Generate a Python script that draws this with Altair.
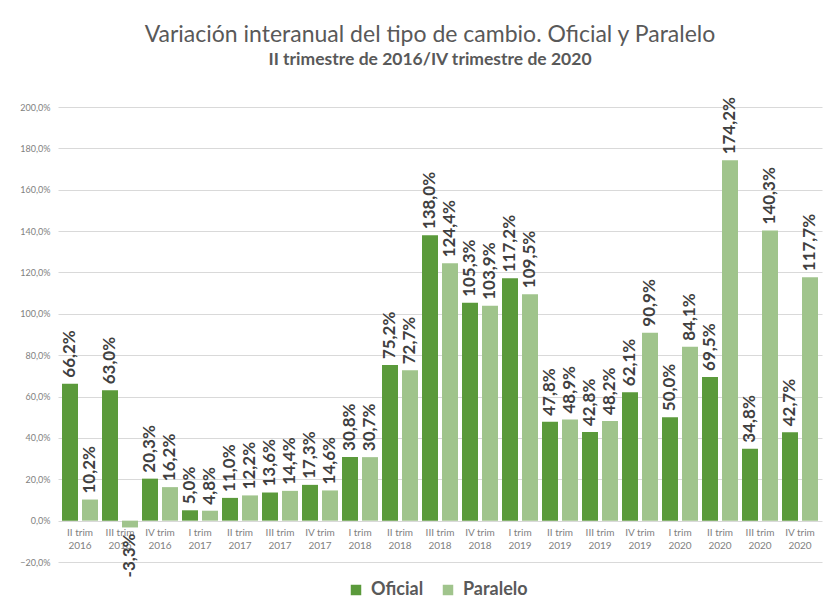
import altair as alt
import pandas as pd

categories = ["II trim|2016", "III trim|2016", "IV trim|2016", "I trim|2017", "II trim|2017",
              "III trim|2017", "IV trim|2017", "I trim|2018", "II trim|2018", "III trim|2018",
              "IV trim|2018", "I trim|2019", "II trim|2019", "III trim|2019", "IV trim|2019",
              "I trim|2020", "II trim|2020", "III trim|2020", "IV trim|2020"]
oficial = [66.2, 63.0, 20.3, 5.0, 11.0, 13.6, 17.3, 30.8, 75.2, 138.0,
           105.3, 117.2, 47.8, 42.8, 62.1, 50.0, 69.5, 34.8, 42.7]
paralelo = [10.2, -3.3, 16.2, 4.8, 12.2, 14.4, 14.6, 30.7, 72.7, 124.4,
            103.9, 109.5, 48.9, 48.2, 90.9, 84.1, 174.2, 140.3, 117.7]
series = ["Oficial", "Paralelo"]
colors = ["#5B9A3B", "#A0C48C"]
y_ticks = list(range(-20, 201, 20))

rows = []
for c, o, p in zip(categories, oficial, paralelo):
    rows.append({"cat": c, "serie": "Oficial", "v": o})
    rows.append({"cat": c, "serie": "Paralelo", "v": p})
df = pd.DataFrame(rows)
df["lbl"] = df["v"].map(lambda v: f"{v:.1f}".replace(".", ",") + "%")

FONT = "Lato"
W, H = 764, 455

x = alt.X("cat:N", sort=categories,
          scale=alt.Scale(paddingInner=0, paddingOuter=0.05),
          axis=alt.Axis(title=None, labelExpr="split(datum.label, '|')", labelAngle=0,
                        domain=False, ticks=False, offset=-41.4, labelPadding=7,
                        labelFontSize=10, labelColor="#7f7f7f", labelFont=FONT,
                        labelLineHeight=13))
xo = alt.XOffset("serie:N", sort=series, scale=alt.Scale(paddingInner=0.2, paddingOuter=0.1))
y = alt.Y("v:Q", scale=alt.Scale(domain=[-20, 200], nice=False),
          axis=alt.Axis(title=None, values=y_ticks, domain=False, ticks=False,
                        labelExpr="replace(format(datum.value, '.1f'), '.', ',') + '%'",
                        labelFontSize=9, labelColor="#7f7f7f", labelFont=FONT,
                        labelPadding=8, gridColor="#d9d9d9", gridWidth=1))

base = alt.Chart(df)

bars = base.mark_bar().encode(
    x=x, xOffset=xo, y=y,
    color=alt.Color("serie:N", sort=series,
                    scale=alt.Scale(domain=series, range=colors),
                    legend=alt.Legend(title=None, orient="none", legendX=289, legendY=474,
                                      direction="horizontal", symbolType="square",
                                      symbolSize=110, symbolStrokeWidth=0,
                                      labelFontSize=18, labelFontWeight="bold",
                                      labelColor="#595959", labelFont=FONT,
                                      columnPadding=15, labelOffset=6)),
)

pos_lbl = base.transform_filter("datum.v >= 0").mark_text(
    angle=270, align="left", baseline="middle", dx=6, fontSize=17,
    fontWeight="bold", font=FONT, color="#404040"
).encode(x=x, xOffset=xo, y=y, text="lbl:N")

neg_lbl = base.transform_filter("datum.v < 0").mark_text(
    angle=270, align="right", baseline="middle", dx=-6, fontSize=17,
    fontWeight="bold", font=FONT, color="#404040"
).encode(x=x, xOffset=xo, y=y, text="lbl:N")

chart = alt.layer(bars, pos_lbl, neg_lbl).properties(
    width=W, height=H,
    title=alt.TitleParams(
        text="Variación interanual del tipo de cambio. Oficial y Paralelo",
        subtitle="II trimestre de 2016/IV trimestre de 2020",
        anchor="middle", font=FONT, fontSize=23, fontWeight="normal", color="#595959",
        subtitleFont=FONT, subtitleFontSize=17.5, subtitleFontWeight="bold",
        subtitleColor="#595959", subtitlePadding=4, offset=29, dx=-10),
    autosize=alt.AutoSizeParams(type="none"),
    padding={"left": 50, "top": 99, "right": 2, "bottom": 38},
).configure_view(strokeWidth=0)

chart.save("out.html", embed_options={"renderer": "svg", "actions": False})
